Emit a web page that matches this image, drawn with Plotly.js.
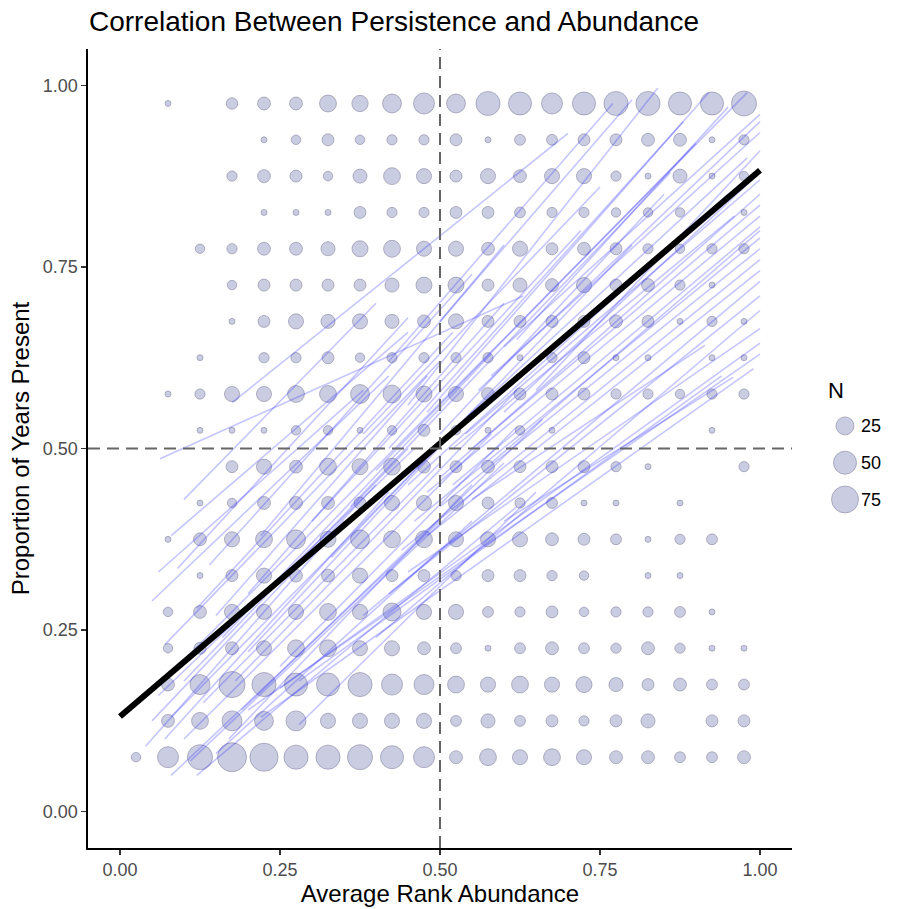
<!DOCTYPE html>
<html>
<head>
<meta charset="utf-8">
<script src="https://cdn.plot.ly/plotly-3.0.1.min.js"></script>
<style>
html,body{margin:0;padding:0;background:#fff;}
#chart{width:899px;height:909px;}
</style>
</head>
<body>
<div id="chart"></div>
<script>
// ---------------- DATA ----------------
const xBins = [0.025,0.075,0.125,0.175,0.225,0.275,0.325,0.375,0.425,0.475,
               0.525,0.575,0.625,0.675,0.725,0.775,0.825,0.875,0.925,0.975];
const yBins = [0.975,0.925,0.875,0.825,0.775,0.725,0.675,0.625,0.575,0.525,
               0.475,0.425,0.375,0.325,0.275,0.225,0.175,0.125,0.075];
// counts (N) per cell: one row per yBins entry, one column per xBins entry
const countGrid = [
  [0,1,0,6,9,9,21,19,29,39,29,56,50,39,50,56,56,50,50,62],
  [0,0,0,0,1,3,7,3,4,4,7,1,5,5,7,7,9,9,1,4],
  [0,0,0,4,9,7,3,12,21,15,7,15,9,15,15,4,1,12,1,3],
  [0,0,0,0,1,1,1,7,4,4,7,7,5,4,4,3,3,3,0,1],
  [0,0,3,4,9,9,12,18,21,15,15,9,15,7,9,7,4,3,4,4],
  [0,0,0,3,7,7,7,7,12,18,18,7,12,9,15,7,9,4,1,0],
  [0,0,0,1,7,15,12,15,12,9,15,7,7,7,7,9,7,1,4,1],
  [0,0,1,0,4,4,7,3,4,4,4,4,1,4,7,1,1,0,1,1],
  [0,1,4,15,15,21,21,29,25,18,15,9,7,7,7,4,4,3,4,4],
  [0,0,1,1,1,3,3,1,3,7,3,1,3,1,0,0,0,0,1,0],
  [0,0,0,7,15,9,21,18,21,9,7,9,7,7,7,4,1,0,0,4],
  [0,0,1,3,9,9,9,7,15,15,15,7,4,5,1,1,0,1,0,0],
  [0,1,9,15,21,29,18,29,21,21,15,15,15,9,7,5,1,4,5,0],
  [0,0,1,7,15,9,9,15,7,7,4,7,7,4,3,0,1,1,0,0],
  [0,3,9,15,15,15,21,15,25,15,15,5,4,7,3,4,4,5,1,0],
  [0,3,7,9,15,21,21,15,15,9,5,1,5,9,5,4,9,4,1,1],
  [0,9,34,69,56,50,50,56,39,34,21,15,21,15,18,12,7,9,5,5],
  [0,9,21,34,29,34,15,15,15,15,5,12,5,7,4,7,12,0,7,7],
  [3,39,62,90,83,56,56,62,50,39,9,21,15,21,15,9,9,5,5,9]
];
// individual fitted lines: start (x0,y0) and end (x1,y1)
const lineX0 = [0.0625,0.175,0.05,0.06,0.08,0.07,0.09,0.06,0.08,0.10,0.11,0.08,0.12,0.15,0.12,0.14,0.16,0.18,0.19,0.20,0.22,0.10,0.25,0.28,0.04,0.05,0.09,
                0.13,0.17,0.10,0.15,0.20,0.07,
                0.20,0.22,0.25,0.28,0.45,0.40,0.42,0.38,0.48,0.44,0.50,0.46,0.52,0.48,0.55,0.50,0.54,0.58,0.56,0.60,0.52,0.48,0.45,0.42,0.40,0.36,0.42,0.50,0.55,0.60,0.33,0.30,0.38,
                0.45,0.55,0.60,0.52,0.62,0.50,0.58,0.65];
const lineY0 = [0.486,0.563,0.29,0.33,0.38,0.23,0.20,0.16,0.13,0.10,0.07,0.05,0.05,0.08,0.28,0.34,0.24,0.18,0.14,0.30,0.38,0.43,0.20,0.12,0.09,0.125,0.335,
                0.15,0.10,0.18,0.27,0.22,0.10,
                0.14,0.13,0.17,0.18,0.33,0.24,0.30,0.27,0.38,0.36,0.42,0.40,0.45,0.44,0.50,0.46,0.52,0.60,0.58,0.64,0.58,0.55,0.56,0.50,0.47,0.42,0.62,0.675,0.43,0.40,0.35,0.40,0.52,
                0.45,0.55,0.55,0.50,0.65,0.52,0.48,0.58];
const lineX1 = [0.63,0.70,0.42,0.38,0.45,0.50,0.52,0.46,0.55,0.58,0.60,0.50,0.62,0.55,0.52,0.55,0.58,0.62,0.66,0.60,0.60,0.40,0.62,0.65,0.35,0.40,0.45,
                0.50,0.55,0.45,0.48,0.55,0.42,
                1.00,0.99,1.00,0.94,1.00,1.00,1.00,1.00,1.00,1.00,1.00,1.00,1.00,1.00,1.00,1.00,1.00,1.00,1.00,1.00,0.98,0.92,0.84,0.88,0.90,0.86,0.77,0.80,0.914,0.958,0.80,0.72,0.75,
                0.95,0.98,1.00,0.96,0.95,0.85,1.00,1.00];
const lineY1 = [0.71,0.934,0.60,0.58,0.66,0.62,0.58,0.50,0.55,0.52,0.48,0.40,0.42,0.40,0.66,0.74,0.63,0.58,0.54,0.70,0.78,0.70,0.53,0.44,0.40,0.45,0.68,
                0.48,0.45,0.50,0.60,0.55,0.44,
                0.63,0.61,0.645,0.60,0.665,0.69,0.71,0.73,0.745,0.76,0.775,0.79,0.805,0.82,0.835,0.85,0.87,0.935,0.95,0.96,0.99,0.99,0.996,0.95,0.92,0.88,0.975,0.98,0.642,0.598,0.78,0.80,0.86,
                0.85,0.90,0.88,0.82,0.97,0.85,0.80,0.91];
// overall fit
const fitX = [0, 1];
const fitY = [0.131, 0.883];
// reference lines
const refX = 0.5, refY = 0.5;
// legend breaks
const legendBreaks = [25, 50, 75];
const xTicks = [0, 0.25, 0.5, 0.75, 1];
const yTicks = [0, 0.25, 0.5, 0.75, 1];

// ---------------- SIZE SCALE (area-like, ggplot style) ----------------
const nMin = 1, nMax = 90, dMin = 6, dMax = 29;
function sizeOf(n){ return dMin + (dMax - dMin) * Math.sqrt((n - nMin) / (nMax - nMin)); }

const px = [], py = [], ps = [], pn = [];
countGrid.forEach((row, j) => row.forEach((n, i) => {
  if (n > 0) { px.push(xBins[i]); py.push(yBins[j]); ps.push(sizeOf(n)); pn.push(n); }
}));

const lx = [], ly = [];
for (let k = 0; k < lineX0.length; k++) {
  lx.push(lineX0[k], lineX1[k], null);
  ly.push(lineY0[k], lineY1[k], null);
}

const FONT = '"Liberation Sans", Arial, Helvetica, sans-serif';
const W = 899, H = 909;
const L = 88, R = 792, T = 49, B = 848;

const fill = 'rgba(25,35,130,0.32)';
const edge = 'rgba(60,60,100,0.5)';

const traces = [
  { type:'scatter', mode:'markers', x:px, y:py, text:pn, hoverinfo:'text',
    marker:{ size:ps, sizemode:'diameter', color:fill, line:{color:edge, width:1} },
    showlegend:false, xaxis:'x', yaxis:'y' },
  { type:'scatter', mode:'lines', x:lx, y:ly, connectgaps:false,
    line:{ color:'rgba(40,40,255,0.27)', width:1.6 }, hoverinfo:'skip', showlegend:false },
  { type:'scatter', mode:'lines', x:fitX, y:fitY,
    line:{ color:'#000', width:6 }, hoverinfo:'skip', showlegend:false },
  // legend (size key)
  { type:'scatter', mode:'markers', x:legendBreaks.map(()=>0), y:legendBreaks.map(String),
    marker:{ size:legendBreaks.map(sizeOf), sizemode:'diameter', color:fill, line:{color:edge, width:1} },
    xaxis:'x2', yaxis:'y2', hoverinfo:'skip', showlegend:false }
];

const layout = {
  width: W, height: H,
  margin:{l:0, r:0, t:0, b:0},
  paper_bgcolor:'#fff', plot_bgcolor:'rgba(0,0,0,0)',
  font:{family:FONT, color:'#000'},
  showlegend:false,
  title:{ text:'Correlation Between Persistence and Abundance',
          font:{family:FONT, size:28, color:'#000'},
          xref:'container', yref:'container', x:89/W, xanchor:'left', y:1-21/H, yanchor:'middle' },
  xaxis:{ domain:[L/W, R/W], range:[-0.05, 1.05], showgrid:false, zeroline:false,
          showline:true, linecolor:'#000', linewidth:1.6, mirror:false,
          ticks:'outside', ticklen:5, tickwidth:1.4, tickcolor:'#333',
          tickvals:xTicks, tickformat:'.2f',
          tickfont:{family:FONT, size:18, color:'#4D4D4D'},
          title:{ text:'Average Rank Abundance', font:{family:FONT, size:24, color:'#000'}, standoff:2 },
          automargin:false, anchor:'y', fixedrange:true },
  yaxis:{ domain:[(H-B)/H, (H-T)/H], range:[-0.05, 1.05], showgrid:false, zeroline:false,
          showline:true, linecolor:'#000', linewidth:1.6,
          ticks:'outside', ticklen:5, tickwidth:1.4, tickcolor:'#333',
          tickvals:yTicks, tickformat:'.2f',
          tickfont:{family:FONT, size:18, color:'#4D4D4D'},
          title:{ text:'Proportion of Years Present', font:{family:FONT, size:24, color:'#000'}, standoff:6 },
          automargin:false, anchor:'x', fixedrange:true },
  xaxis2:{ domain:[830/W, 860/W], range:[-1, 1], visible:false, anchor:'y2', fixedrange:true },
  yaxis2:{ domain:[(H-522)/H, (H-409)/H], type:'category', categoryarray:legendBreaks.map(String),
           autorange:'reversed', side:'right', anchor:'x2', showline:false, showgrid:false, zeroline:false,
           ticks:'', tickfont:{family:FONT, size:18, color:'#000'}, fixedrange:true },
  shapes:[
    { type:'line', xref:'x', yref:'paper', x0:refX, x1:refX, y0:(H-B)/H, y1:(H-T)/H,
      line:{ color:'#666', width:2, dash:'12px,7px' } },
    { type:'line', xref:'paper', yref:'y', x0:L/W, x1:R/W, y0:refY, y1:refY,
      line:{ color:'#666', width:2, dash:'12px,7px' } }
  ],
  annotations:[
    { text:'N', xref:'paper', yref:'paper', x:826/W, y:(H-391)/H, xanchor:'left', yanchor:'middle',
      showarrow:false, font:{family:FONT, size:22, color:'#000'} }
  ]
};

Plotly.newPlot('chart', traces, layout, {displayModeBar:false, staticPlot:true});
</script>
</body>
</html>
